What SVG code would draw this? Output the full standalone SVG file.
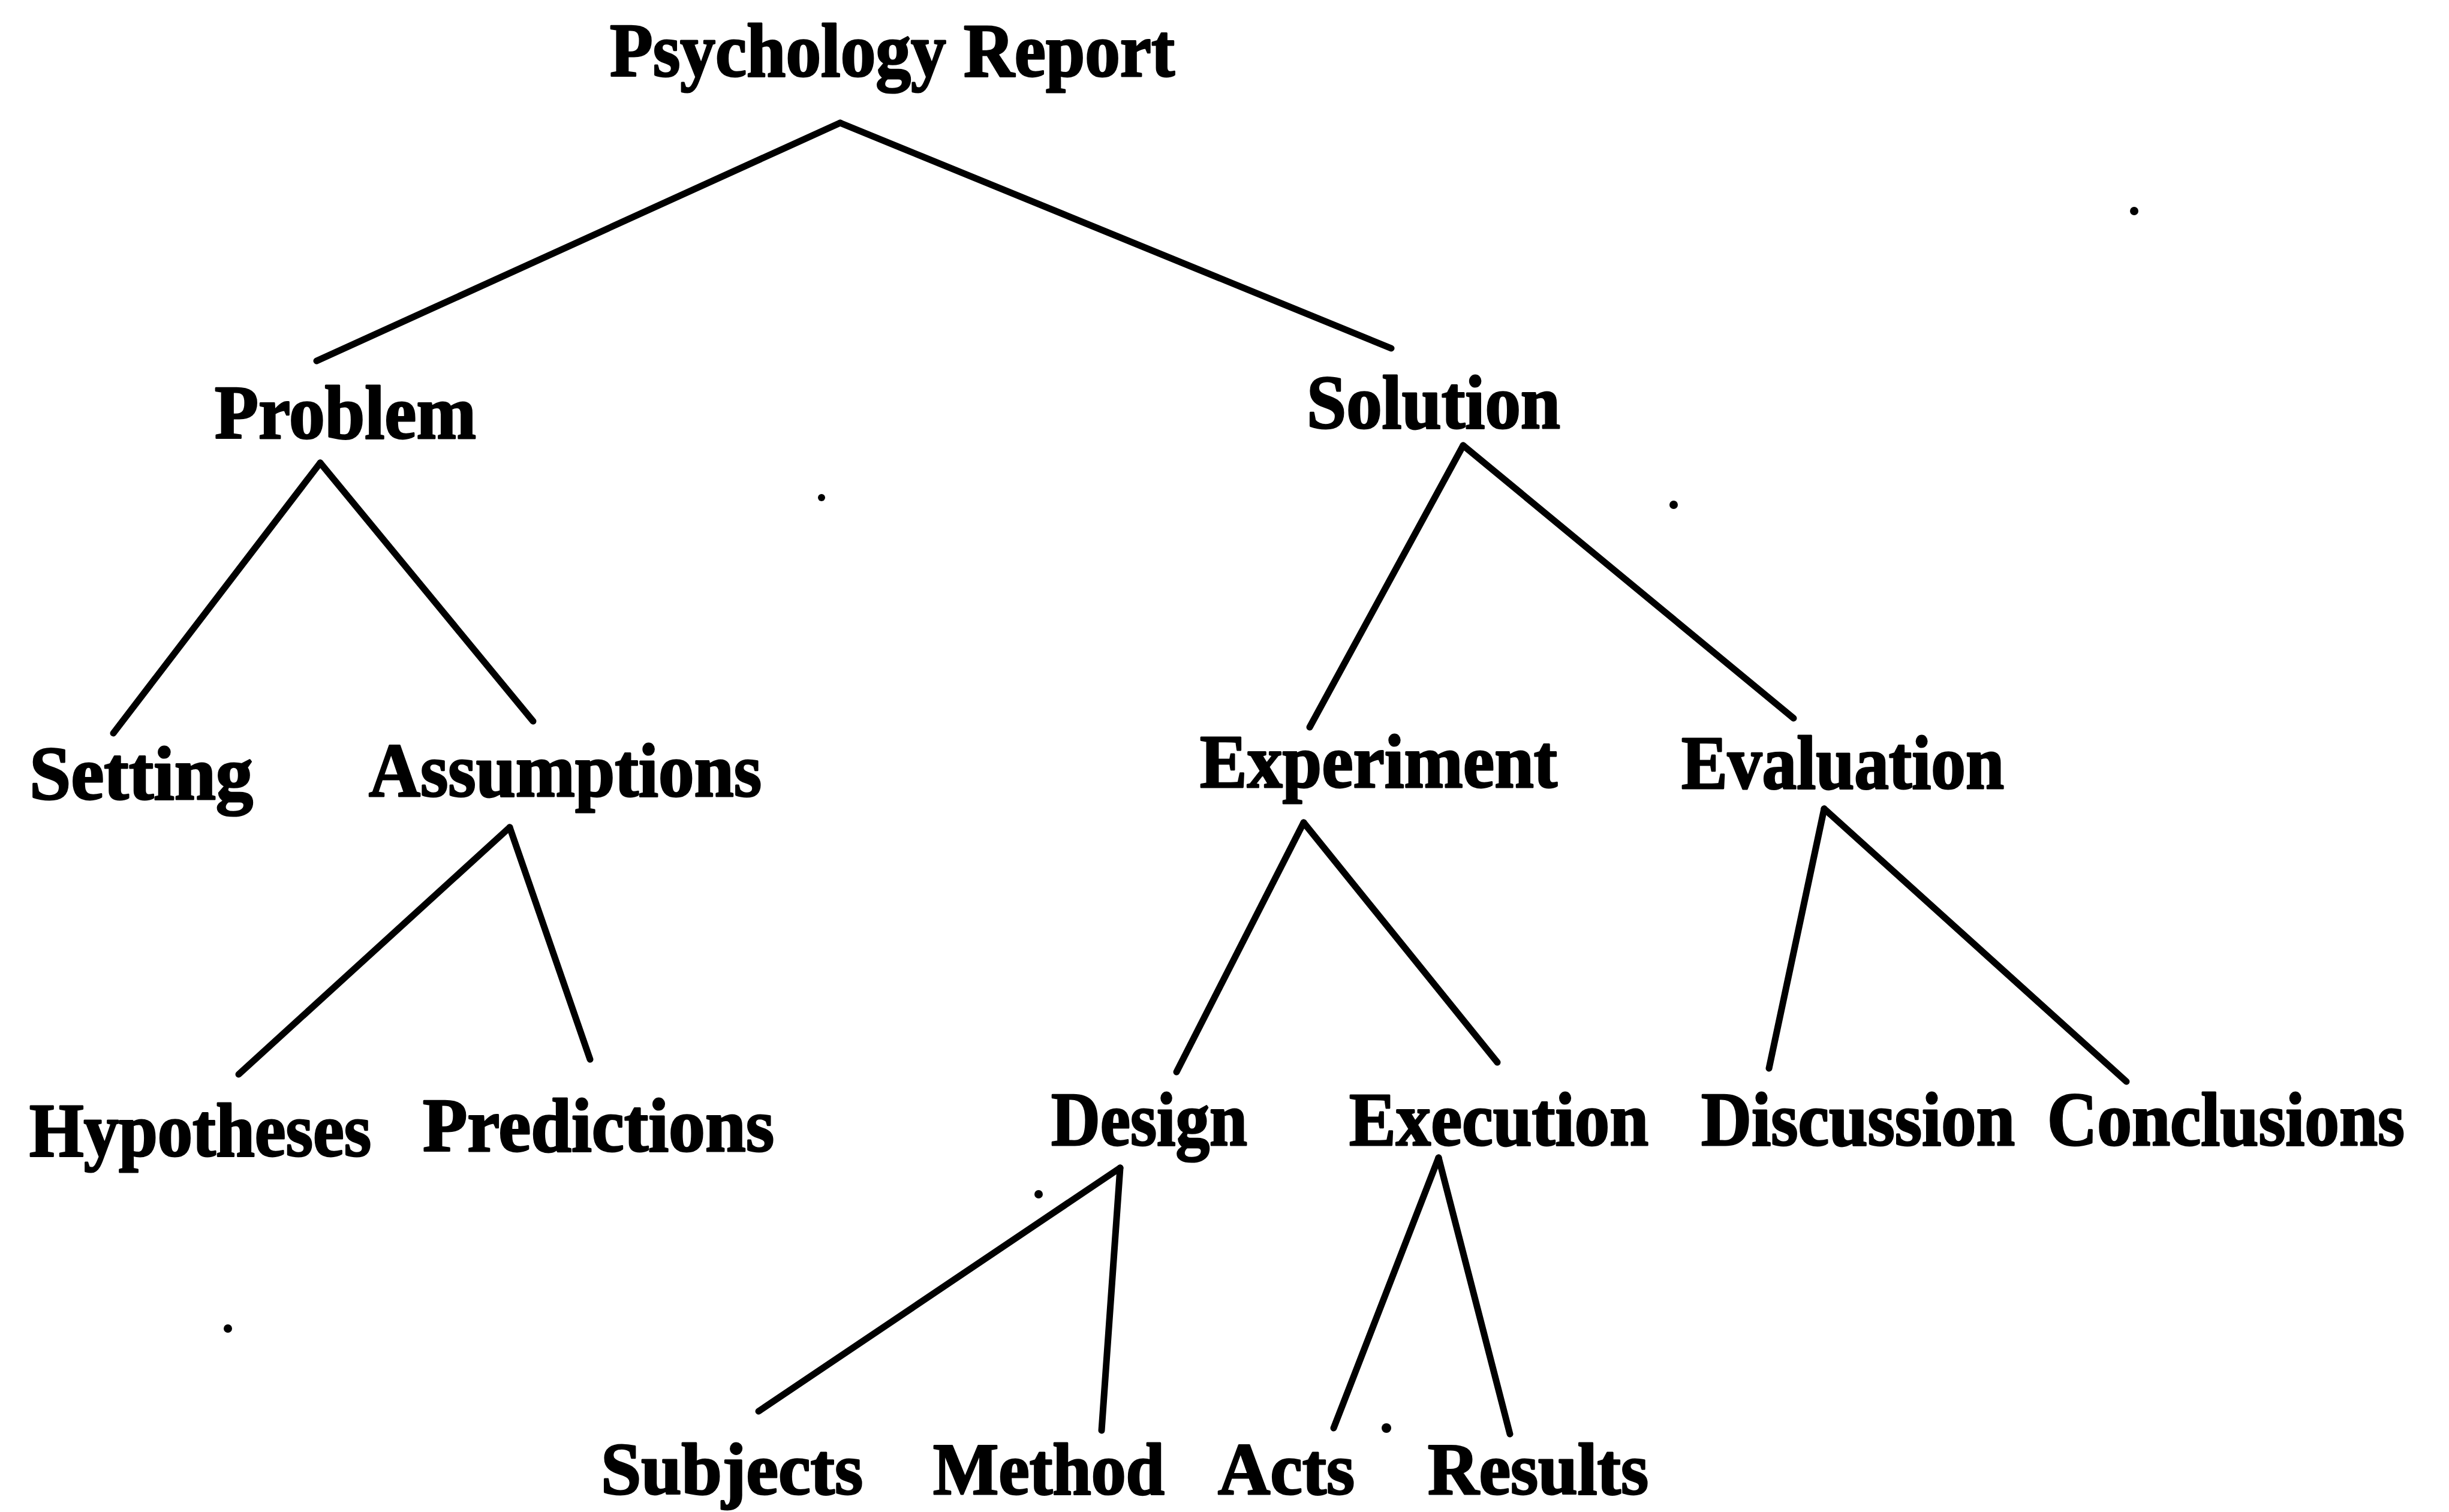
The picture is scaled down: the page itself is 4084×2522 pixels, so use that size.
<svg xmlns="http://www.w3.org/2000/svg" width="4084" height="2522" viewBox="0 0 4084 2522">
<style>
.lbl{font-family:"Liberation Serif","DejaVu Serif",serif;font-weight:bold;font-size:128px;fill:#000;stroke:#000;stroke-width:3;stroke-linejoin:round}
.low{font-size:122px}
.edge{stroke:#000;stroke-width:11;stroke-linecap:round;fill:none}
.speck{fill:#000}
</style>
<rect width="4084" height="2522" fill="#fff"/>
<g id="connectors">
<line class="edge" x1="1401" y1="205" x2="528" y2="602"/>
<line class="edge" x1="1401" y1="205" x2="2320" y2="581"/>
<line class="edge" x1="534" y1="772" x2="189" y2="1223"/>
<line class="edge" x1="534" y1="772" x2="889" y2="1203"/>
<line class="edge" x1="2440" y1="743" x2="2184" y2="1213"/>
<line class="edge" x1="2440" y1="743" x2="2991" y2="1198"/>
<line class="edge" x1="850" y1="1380" x2="398" y2="1792"/>
<line class="edge" x1="850" y1="1380" x2="984" y2="1767"/>
<line class="edge" x1="2174" y1="1372" x2="1962" y2="1788"/>
<line class="edge" x1="2174" y1="1372" x2="2497" y2="1772"/>
<line class="edge" x1="3042" y1="1349" x2="2950" y2="1782"/>
<line class="edge" x1="3042" y1="1349" x2="3546" y2="1804"/>
<line class="edge" x1="1868" y1="1948" x2="1265" y2="2354"/>
<line class="edge" x1="1868" y1="1948" x2="1837" y2="2386"/>
<line class="edge" x1="2399" y1="1931" x2="2224" y2="2382"/>
<line class="edge" x1="2399" y1="1931" x2="2518" y2="2392"/>
</g>
<g id="psychology-report"><text class="lbl" x="1017" y="127" textLength="942" lengthAdjust="spacingAndGlyphs">Psychology Report</text></g>
<g id="problem"><text class="lbl" x="358" y="731" textLength="436" lengthAdjust="spacingAndGlyphs">Problem</text></g>
<g id="solution"><text class="lbl" x="2179" y="714" textLength="423" lengthAdjust="spacingAndGlyphs">Solution</text></g>
<g id="setting"><text class="lbl" x="49" y="1333" textLength="373" lengthAdjust="spacingAndGlyphs">Setting</text></g>
<g id="assumptions"><text class="lbl" x="615" y="1328" textLength="655" lengthAdjust="spacingAndGlyphs">Assumptions</text></g>
<g id="experiment"><text class="lbl" x="2001" y="1313" textLength="596" lengthAdjust="spacingAndGlyphs">Experiment</text></g>
<g id="evaluation"><text class="lbl" x="2804" y="1315" textLength="538" lengthAdjust="spacingAndGlyphs">Evaluation</text></g>
<g id="hypotheses"><text class="lbl" x="49" y="1928" textLength="570" lengthAdjust="spacingAndGlyphs">Hypotheses</text></g>
<g id="predictions"><text class="lbl" x="705" y="1920" textLength="586" lengthAdjust="spacingAndGlyphs">Predictions</text></g>
<g id="design"><text class="lbl" x="1753" y="1910" textLength="327" lengthAdjust="spacingAndGlyphs">Design</text></g>
<g id="execution"><text class="lbl" x="2250" y="1910" textLength="499" lengthAdjust="spacingAndGlyphs">Execution</text></g>
<g id="discussion"><text class="lbl" x="2837" y="1910" textLength="523" lengthAdjust="spacingAndGlyphs">Discussion</text></g>
<g id="conclusions"><text class="lbl" x="3414" y="1910" textLength="596" lengthAdjust="spacingAndGlyphs">Conclusions</text></g>
<g id="subjects"><text class="lbl low" x="1002" y="2492" textLength="437" lengthAdjust="spacingAndGlyphs">Subjects</text></g>
<g id="method"><text class="lbl low" x="1556" y="2492" textLength="386" lengthAdjust="spacingAndGlyphs">Method</text></g>
<g id="acts"><text class="lbl low" x="2031" y="2492" textLength="228" lengthAdjust="spacingAndGlyphs">Acts</text></g>
<g id="results"><text class="lbl low" x="2381" y="2492" textLength="368" lengthAdjust="spacingAndGlyphs">Results</text></g>
<g id="specks">
<circle class="speck" cx="3559" cy="352" r="7"/>
<circle class="speck" cx="1370" cy="830" r="6"/>
<circle class="speck" cx="2791" cy="842" r="7"/>
<circle class="speck" cx="380" cy="2216" r="7"/>
<circle class="speck" cx="1732" cy="1992" r="7"/>
<circle class="speck" cx="2312" cy="2382" r="8"/>
</g>
</svg>
